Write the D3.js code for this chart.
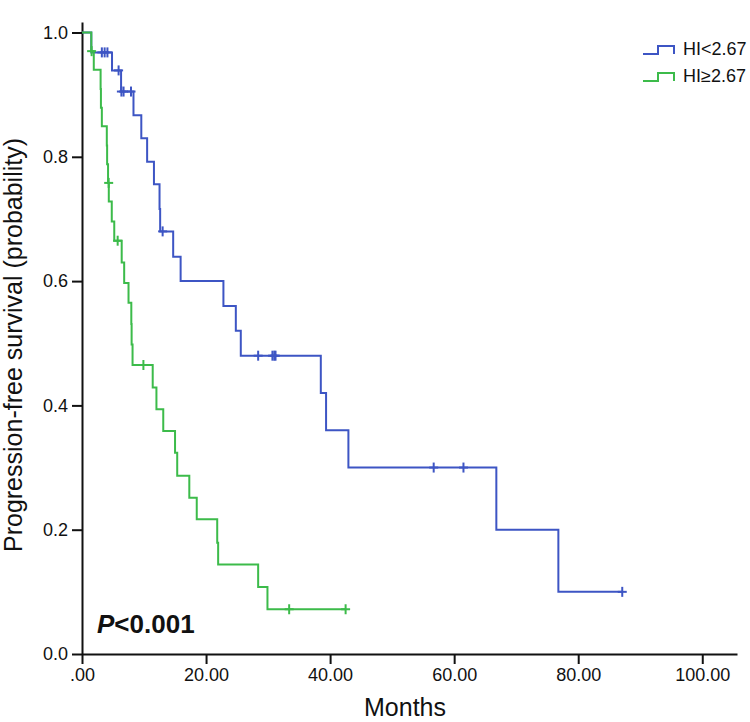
<!DOCTYPE html>
<html>
<head>
<meta charset="utf-8">
<script src="https://cdn.jsdelivr.net/npm/d3@7/dist/d3.min.js"></script>
<style>
  html, body { margin: 0; padding: 0; background: #fff; }
  svg { display: block; }
  text { font-family: "Liberation Sans", Arial, sans-serif; fill: #111; }
</style>
</head>
<body>
<svg id="chart" width="750" height="722"></svg>
<script>
// ---------- DATA ----------
const seriesNames = ["HI<2.67", "HI\u22652.67"];

// HI<2.67 : event times (months) and survival after each drop
const blueTimes = [1.5, 4.84, 6.3, 8.3, 9.56, 10.5, 11.6, 12.5, 12.6, 14.7, 15.9, 22.8, 24.8, 25.6, 38.5, 39.35, 42.95, 66.8, 76.8];
const blueSurv  = [0.968, 0.939, 0.905, 0.867, 0.830, 0.792, 0.756, 0.716, 0.680, 0.639, 0.600, 0.560, 0.520, 0.480, 0.420, 0.360, 0.300, 0.200, 0.100];
const blueCensor = [3.2, 3.65, 4.1, 5.9, 6.35, 6.7, 7.9, 13.0, 28.4, 30.7, 31.0, 31.2, 56.7, 61.5, 87.1];

// HI>=2.67
const greenTimes = [1.5, 1.9, 3.0, 3.05, 3.2, 4.0, 4.05, 4.2, 4.32, 4.8, 5.2, 6.4, 6.8, 7.5, 7.95, 8.0, 8.15, 11.4, 12.0, 13.1, 15.0, 15.35, 17.3, 18.5, 21.8, 21.95, 28.4, 29.9];
const greenSurv  = [0.970, 0.940, 0.909, 0.879, 0.849, 0.818, 0.788, 0.758, 0.728, 0.696, 0.665, 0.630, 0.597, 0.565, 0.531, 0.498, 0.465, 0.429, 0.394, 0.359, 0.324, 0.287, 0.2515, 0.2167, 0.179, 0.144, 0.108, 0.072];
const greenCensor = [1.55, 4.3, 5.75, 9.9, 33.4, 42.5];

const xTickValues = [0, 20, 40, 60, 80, 100];
const xTickLabels = [".00", "20.00", "40.00", "60.00", "80.00", "100.00"];
const yTickValues = [0, 0.2, 0.4, 0.6, 0.8, 1.0];
const yTickLabels = ["0.0", "0.2", "0.4", "0.6", "0.8", "1.0"];

const xTitle = "Months";
const yTitle = "Progression-free survival (probability)";
const pText = "<0.001";

const colors = ["#3d55c4", "#3cbb4a"];

// ---------- LAYOUT ----------
const svg = d3.select("#chart");
const x = d3.scaleLinear().domain([0, 105.6]).range([82, 737]);
const y = d3.scaleLinear().domain([0, 1.0169]).range([654, 22]);

// axes
const xAxis = d3.axisBottom(x).tickValues(xTickValues)
  .tickFormat((d, i) => xTickLabels[i]).tickSizeInner(10).tickSizeOuter(0).tickPadding(4);
const yAxis = d3.axisLeft(y).tickValues(yTickValues)
  .tickFormat((d, i) => yTickLabels[i]).tickSizeInner(10).tickSizeOuter(0).tickPadding(4);

const gx = svg.append("g").attr("transform", "translate(0,654)").call(xAxis);
const gy = svg.append("g").attr("transform", "translate(82,0)").call(yAxis);
[gx, gy].forEach(g => {
  g.select(".domain").attr("stroke", "#111").attr("stroke-width", 2);
  g.selectAll(".tick line").attr("stroke", "#111").attr("stroke-width", 2);
  g.selectAll(".tick text").attr("font-size", 18).attr("fill", "#111")
    .style("font-family", '"Liberation Sans", Arial, sans-serif');
});

// titles
svg.append("text").attr("x", 405).attr("y", 716).attr("text-anchor", "middle")
  .attr("font-size", 25).text(xTitle);
svg.append("text").attr("transform", "translate(22,345) rotate(-90)")
  .attr("text-anchor", "middle").attr("font-size", 25).text(yTitle);

// survival curves
function survAt(times, surv, t) {
  let s = 1;
  for (let i = 0; i < times.length; i++) if (times[i] <= t) s = surv[i];
  return s;
}
const line = d3.line().x(d => x(d[0])).y(d => y(d[1])).curve(d3.curveStepAfter);

function drawSeries(times, surv, censor, color) {
  const end = Math.max(d3.max(censor), d3.max(times));
  const pts = [[0, 1]].concat(times.map((t, i) => [t, surv[i]]));
  pts.push([end, surv[surv.length - 1]]);
  svg.append("path").datum(pts).attr("d", line)
    .attr("fill", "none").attr("stroke", color).attr("stroke-width", 2);
  const g = svg.append("g").attr("stroke", color).attr("stroke-width", 2);
  censor.forEach(t => {
    const cx = x(t), cy = y(survAt(times, surv, t));
    g.append("line").attr("x1", cx).attr("x2", cx).attr("y1", cy - 5).attr("y2", cy + 5);
    g.append("line").attr("x1", cx - 4.5).attr("x2", cx + 4.5).attr("y1", cy).attr("y2", cy);
  });
}
drawSeries(blueTimes, blueSurv, blueCensor, colors[0]);
drawSeries(greenTimes, greenSurv, greenCensor, colors[1]);

// legend
const legendY = [54, 81];
seriesNames.forEach((name, i) => {
  const ly = legendY[i];
  svg.append("path")
    .attr("d", d3.line()([[643, ly], [658, ly], [658, ly - 8], [674, ly - 8], [674, ly]]))
    .attr("fill", "none").attr("stroke", colors[i]).attr("stroke-width", 2);
  svg.append("text").attr("x", 683).attr("y", ly + 1).attr("font-size", 18).text(name);
});

// p value
const pt = svg.append("text").attr("x", 97).attr("y", 633).attr("font-size", 26).attr("font-weight", "bold");
pt.append("tspan").attr("font-style", "italic").text("P");
pt.append("tspan").text(pText);
</script>
</body>
</html>
